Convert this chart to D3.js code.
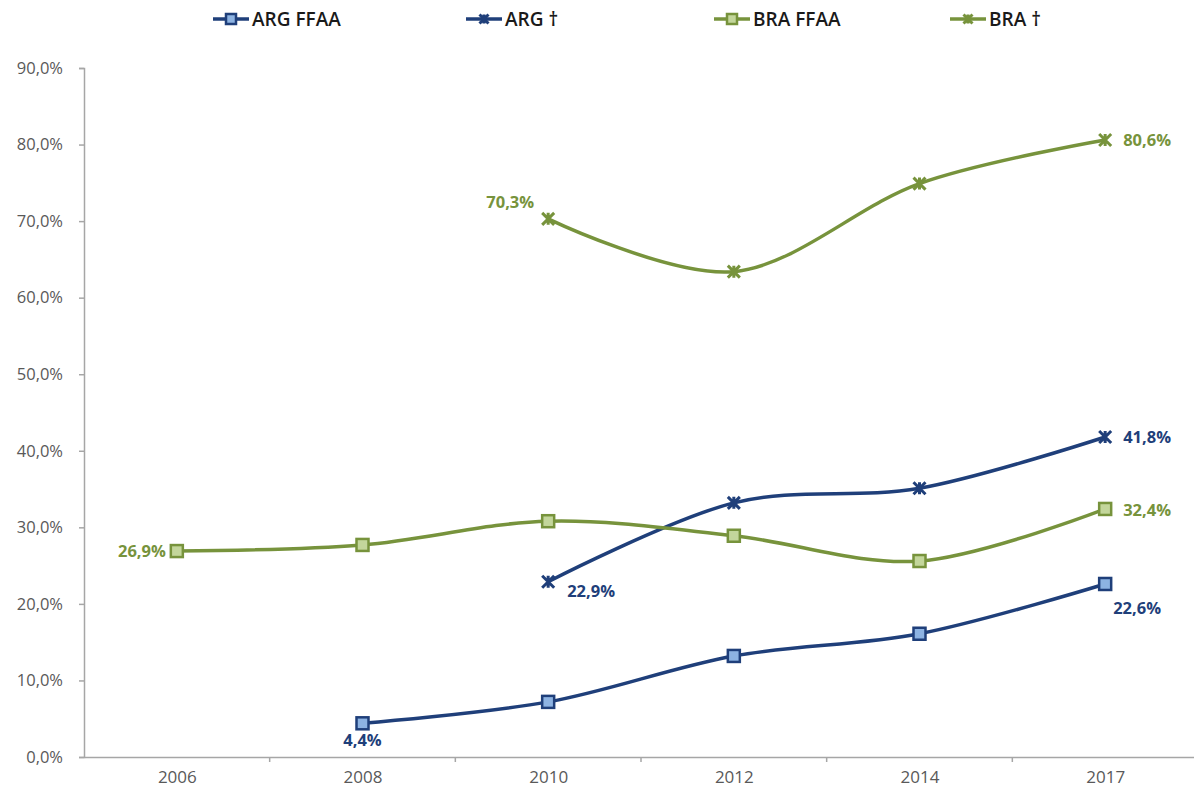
<!DOCTYPE html>
<html><head><meta charset="utf-8">
<script src="https://cdn.jsdelivr.net/npm/d3@7"></script>
<style>body{margin:0;background:#fff}svg{display:block}</style>
</head><body>
<svg id="c" width="1194" height="790"></svg>
<script>
const years = ["2006","2008","2010","2012","2014","2017"];
const yTicks = [0,10,20,30,40,50,60,70,80,90];
const argFFAA = [null, 4.4, 7.2, 13.2, 16.1, 22.6];
const argMuertes = [null, null, 22.9, 33.2, 35.1, 41.8];
const braFFAA = [26.9, 27.7, 30.8, 28.9, 25.6, 32.4];
const braMuertes = [null, null, 70.3, 63.4, 74.9, 80.6];
const seriesNames = ["ARG FFAA","ARG †","BRA FFAA","BRA †"];

(function(){
const BLUE="#1f3f7a", BLUEF="#8db3e2", GREEN="#77933c", GREENF="#c3d69b";
const series = [
  {name:seriesNames[0], vals:argFFAA, color:BLUE, fill:BLUEF, marker:"square",
   labels:{1:[0,23,"middle"],5:[8,30,"start"]}},
  {name:seriesNames[1], vals:argMuertes, color:BLUE, fill:BLUE, marker:"x",
   labels:{2:[19,15,"start"],5:[18,6,"start"]}},
  {name:seriesNames[2], vals:braFFAA, color:GREEN, fill:GREENF, marker:"square",
   labels:{0:[-11,6,"end"],5:[18,7,"start"]}},
  {name:seriesNames[3], vals:braMuertes, color:GREEN, fill:GREEN, marker:"x",
   labels:{2:[-14,-11,"end"],5:[18,6,"start"]}}
];

const svg = d3.select("#c");
const mLeft=84, mRight=1198, mTop=68, mBottom=757;
const x = d3.scalePoint().domain(years).range([mLeft,mRight]).padding(0.5);
const xb = d3.scaleBand().domain(years).range([mLeft,mRight]);
const y = d3.scaleLinear().domain([0,90]).range([mBottom,mTop]);
const fmt = v => v.toFixed(1).replace(".",",")+"%";
const font = "'Open Sans', 'Noto Sans', sans-serif";

// y axis
const ya = svg.append("g").attr("transform",`translate(${mLeft},0)`)
  .call(d3.axisLeft(y).tickValues(yTicks).tickSize(5).tickFormat(fmt));
ya.select(".domain").attr("stroke","#a6a6a6").attr("stroke-width",1.5);
ya.selectAll(".tick line").attr("stroke","#a6a6a6").attr("stroke-width",1.5);
ya.selectAll("text").attr("fill","#595959").style("font-family",font).style("font-size","16.5px").attr("x",-21);

// x axis
const xa = svg.append("g").attr("transform",`translate(0,${mBottom})`)
  .call(d3.axisBottom(x).tickSize(0).tickPadding(14));
xa.select(".domain").attr("stroke","#a6a6a6").attr("stroke-width",1.5);
xa.selectAll("text").attr("fill","#595959").style("font-family",font).style("font-size","17px");
svg.append("g").selectAll("line").data(years.slice(1)).join("line")
  .attr("x1",d=>xb(d)).attr("x2",d=>xb(d)).attr("y1",mBottom).attr("y2",mBottom+5)
  .attr("stroke","#a6a6a6").attr("stroke-width",1.5);

const line = d3.line().defined(d=>d.v!=null).x(d=>x(d.k)).y(d=>y(d.v)).curve(d3.curveCardinal.tension(0));

function drawMarker(g, type, color, fill, size){
  if(type==="square"){
    g.append("rect").attr("x",-size/2).attr("y",-size/2).attr("width",size).attr("height",size)
      .attr("fill",fill).attr("stroke",color).attr("stroke-width",2.5);
  } else {
    const s=size/2;
    g.append("path").attr("d",`M${-s},${-s}L${s},${s}M${-s},${s}L${s},${-s}M0,${-s}L0,${s}`)
      .attr("stroke",color).attr("stroke-width",3).attr("fill","none");
  }
}

series.forEach(s=>{
  const pts = years.map((k,i)=>({k, v:s.vals[i], i}));
  const valid = pts.filter(d=>d.v!=null);
  svg.append("path").datum(valid).attr("d",line).attr("fill","none")
    .attr("stroke",s.color).attr("stroke-width",3.5);
  valid.forEach(d=>{
    const g = svg.append("g").attr("transform",`translate(${x(d.k)},${y(d.v)})`);
    drawMarker(g, s.marker, s.color, s.fill, 12);
    const lab = s.labels[d.i];
    if(lab){
      svg.append("text").attr("x",x(d.k)+lab[0]).attr("y",y(d.v)+lab[1])
        .attr("text-anchor",lab[2]).attr("fill",s.color)
        .style("font-family",font).style("font-size","16.5px").style("font-weight","bold")
        .text(fmt(d.v));
    }
  });
});

// legend
const legX = [213, 466, 714, 950];
series.forEach((s,i)=>{
  const g = svg.append("g").attr("transform",`translate(${legX[i]},19)`);
  g.append("line").attr("x1",0).attr("x2",36).attr("y1",0).attr("y2",0).attr("stroke",s.color).attr("stroke-width",3.5);
  const m = g.append("g").attr("transform","translate(18,0)");
  drawMarker(m, s.marker, s.color, s.fill, s.marker==="square"?10:9);
  g.append("text").attr("x",39).attr("y",7).attr("fill","#1a1a1a")
    .style("font-family",font).style("font-size","19px").style("font-weight","600")
    .text(s.name);
});
})();
</script>
</body></html>
